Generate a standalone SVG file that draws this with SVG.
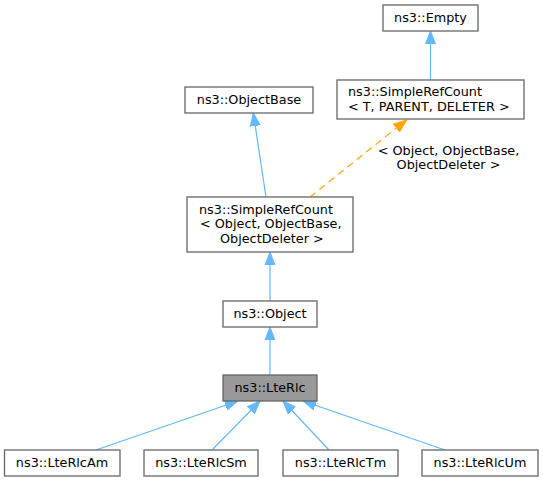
<svg xmlns="http://www.w3.org/2000/svg" width="543" height="481" viewBox="0 0 543 481">
<style>
.n rect{fill:#ffffff;stroke:#666666;stroke-width:1.3}
.n.cur rect{fill:#999999}
text{font-family:"DejaVu Sans","Liberation Sans",sans-serif;font-size:12.8px;fill:#000000}
.c{text-anchor:middle}
.e{fill:none;stroke:#63b8ff;stroke-width:1.2}
.d{fill:none;stroke:#ffa500;stroke-width:1.2;stroke-dasharray:7,5}
</style>
<defs>
<marker id="ab" markerUnits="userSpaceOnUse" markerWidth="14" markerHeight="12" refX="13" refY="5.5" orient="auto" viewBox="0 0 14 11">
<path d="M0,0.5 L13,5.5 L0,10.5 z" fill="#63b8ff" stroke="#63b8ff" stroke-width="1"/>
</marker>
<marker id="ao" markerUnits="userSpaceOnUse" markerWidth="14" markerHeight="12" refX="13" refY="5.5" orient="auto" viewBox="0 0 14 11">
<path d="M0,0.5 L13,5.5 L0,10.5 z" fill="#ffa500" stroke="#ffa500" stroke-width="1"/>
</marker>
</defs>
<g id="edges">
<path class="e" d="M430.5,80 L430.5,31" marker-end="url(#ab)"/>
<path class="e" d="M266,197 L253.3,113" marker-end="url(#ab)"/>
<path class="d" d="M310,197 L406.5,120" marker-end="url(#ao)"/>
<text class="c" x="448.5" y="155">&lt; Object, ObjectBase,</text>
<text class="c" x="448.5" y="169">ObjectDeleter &gt;</text>
<path class="e" d="M270,301 L270,252" marker-end="url(#ab)"/>
<path class="e" d="M270,375 L270,327" marker-end="url(#ab)"/>
<path class="e" d="M96,450 L238,401" marker-end="url(#ab)"/>
<path class="e" d="M212,450 L260,401" marker-end="url(#ab)"/>
<path class="e" d="M329,450 L283,401" marker-end="url(#ab)"/>
<path class="e" d="M445,450 L303,401" marker-end="url(#ab)"/>
</g>
<g id="node_empty" class="n">
<rect x="383" y="5" width="95" height="26"/>
<text class="c" x="430.5" y="22">ns3::Empty</text>
</g>
<g id="node_srct" class="n">
<rect x="337" y="80" width="187" height="39"/>
<text x="348" y="96">ns3::SimpleRefCount</text>
<text x="348" y="111">&lt; T, PARENT, DELETER &gt;</text>
</g>
<g id="node_objectbase" class="n">
<rect x="185" y="87" width="128" height="26"/>
<text class="c" x="249" y="104">ns3::ObjectBase</text>
</g>
<g id="node_srcobject" class="n">
<rect x="187" y="197" width="166" height="55"/>
<text x="199" y="213.5">ns3::SimpleRefCount</text>
<text x="200" y="228">&lt; Object, ObjectBase,</text>
<text x="220" y="242.5">ObjectDeleter &gt;</text>
</g>
<g id="node_object" class="n">
<rect x="223" y="301" width="94" height="26"/>
<text class="c" x="270" y="318">ns3::Object</text>
</g>
<g id="node_ltertlc" class="n cur">
<rect x="223" y="375" width="94" height="26"/>
<text class="c" x="270" y="392">ns3::LteRlc</text>
</g>
<g id="node_am" class="n">
<rect x="4.5" y="450" width="115.5" height="26"/>
<text class="c" x="62" y="467">ns3::LteRlcAm</text>
</g>
<g id="node_sm" class="n">
<rect x="144" y="450" width="114" height="26"/>
<text class="c" x="201" y="467">ns3::LteRlcSm</text>
</g>
<g id="node_tm" class="n">
<rect x="283" y="450" width="115" height="26"/>
<text class="c" x="340.5" y="467">ns3::LteRlcTm</text>
</g>
<g id="node_um" class="n">
<rect x="422" y="450" width="116" height="26"/>
<text class="c" x="480" y="467">ns3::LteRlcUm</text>
</g>
</svg>
